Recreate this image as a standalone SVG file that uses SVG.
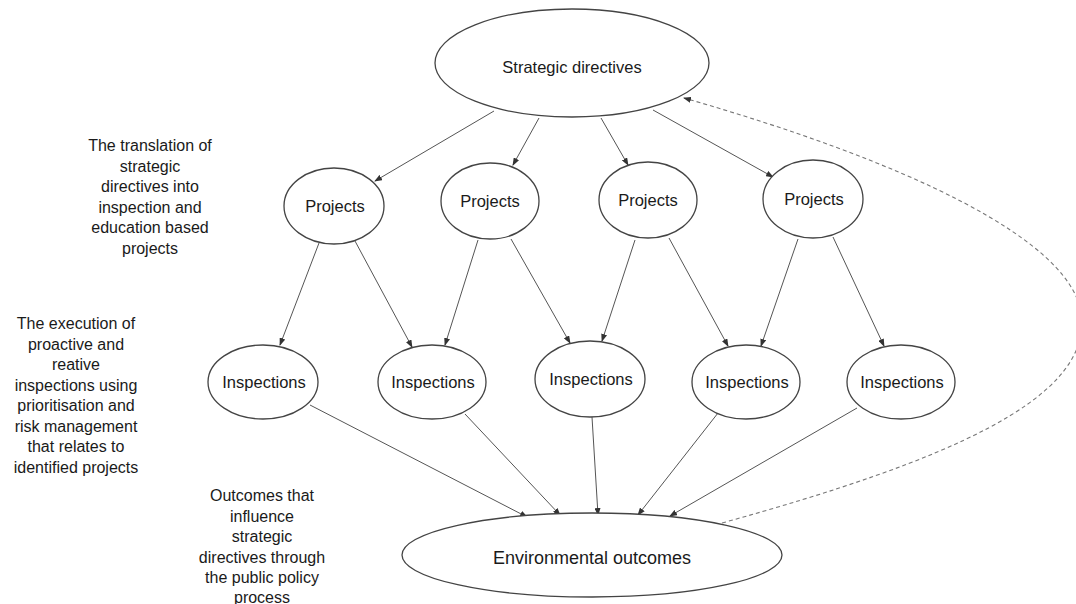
<svg xmlns="http://www.w3.org/2000/svg" width="1076" height="604" viewBox="0 0 1076 604">
  <defs>
    <marker id="arrow" markerWidth="8" markerHeight="6" refX="7" refY="3" orient="auto" markerUnits="userSpaceOnUse">
      <path d="M0,0 L8,3 L0,6 z" fill="#333"/>
    </marker>
    <style>
      .node ellipse { fill: #fff; stroke: #444; stroke-width: 1.3; }
      .node text { font-family: "Liberation Sans", Arial, sans-serif; font-size: 16.5px; fill: #1a1a1a; text-anchor: middle; }
      .edge { stroke: #555; stroke-width: 1; fill: none; marker-end: url(#arrow); }
      .feedback { stroke: #777; stroke-width: 1.1; fill: none; stroke-dasharray: 4 3; marker-end: url(#arrow); }
      .note { font-family: "Liberation Sans", Arial, sans-serif; font-size: 16px; fill: #1a1a1a; text-anchor: middle; }
    </style>
  </defs>
  <rect width="1076" height="604" fill="#fff"/>

  <!-- connectors -->
  <g id="connectors">
    <line class="edge" x1="494" y1="111" x2="375" y2="181"/>
    <line class="edge" x1="539" y1="118" x2="513" y2="165"/>
    <line class="edge" x1="601" y1="118" x2="628" y2="165"/>
    <line class="edge" x1="653" y1="110" x2="773" y2="177"/>

    <line class="edge" x1="319" y1="243" x2="280" y2="345"/>
    <line class="edge" x1="355" y1="241" x2="412" y2="347"/>
    <line class="edge" x1="478" y1="240" x2="445" y2="345"/>
    <line class="edge" x1="511" y1="239" x2="570" y2="343"/>
    <line class="edge" x1="635" y1="240" x2="602" y2="341"/>
    <line class="edge" x1="669" y1="238" x2="728" y2="346"/>
    <line class="edge" x1="798" y1="239" x2="761" y2="346"/>
    <line class="edge" x1="833" y1="237" x2="884" y2="346"/>

    <line class="edge" x1="310" y1="405" x2="527" y2="517"/>
    <line class="edge" x1="465" y1="414" x2="560" y2="515"/>
    <line class="edge" x1="592" y1="417" x2="598" y2="515"/>
    <line class="edge" x1="718" y1="413" x2="638" y2="515"/>
    <line class="edge" x1="857" y1="408" x2="670" y2="516"/>

    <path class="feedback" d="M722,523 C950,460 1085,400 1082,320 C1079,240 900,160 684,98"/>
  </g>

  <!-- top level -->
  <g id="strategic" class="node">
    <ellipse cx="572" cy="63" rx="137" ry="54"/>
    <text x="572" y="73">Strategic directives</text>
  </g>

  <!-- project level -->
  <g id="project1" class="node">
    <ellipse cx="334" cy="206" rx="50" ry="38"/>
    <text x="335" y="212">Projects</text>
  </g>
  <g id="project2" class="node">
    <ellipse cx="490" cy="201" rx="49" ry="38"/>
    <text x="490" y="207">Projects</text>
  </g>
  <g id="project3" class="node">
    <ellipse cx="648" cy="200" rx="49" ry="38"/>
    <text x="648" y="206">Projects</text>
  </g>
  <g id="project4" class="node">
    <ellipse cx="813" cy="199" rx="50" ry="39"/>
    <text x="814" y="205">Projects</text>
  </g>

  <!-- inspection level -->
  <g id="inspection1" class="node">
    <ellipse cx="263" cy="382" rx="55" ry="37"/>
    <text x="264" y="388">Inspections</text>
  </g>
  <g id="inspection2" class="node">
    <ellipse cx="432" cy="382" rx="54" ry="37"/>
    <text x="433" y="388">Inspections</text>
  </g>
  <g id="inspection3" class="node">
    <ellipse cx="590" cy="379" rx="55" ry="38"/>
    <text x="591" y="385">Inspections</text>
  </g>
  <g id="inspection4" class="node">
    <ellipse cx="746" cy="382" rx="54" ry="37"/>
    <text x="747" y="388">Inspections</text>
  </g>
  <g id="inspection5" class="node">
    <ellipse cx="901" cy="382" rx="54" ry="37"/>
    <text x="902" y="388">Inspections</text>
  </g>

  <!-- outcome level -->
  <g id="outcomes" class="node">
    <ellipse cx="592" cy="555" rx="190" ry="42"/>
    <text x="592" y="564" style="font-size:18px">Environmental outcomes</text>
  </g>

  <!-- level descriptions -->
  <g id="note-projects">
    <text class="note" x="150" y="151">The translation of</text>
    <text class="note" x="150" y="171.5">strategic</text>
    <text class="note" x="150" y="192">directives into</text>
    <text class="note" x="150" y="212.5">inspection and</text>
    <text class="note" x="150" y="233">education based</text>
    <text class="note" x="150" y="253.5">projects</text>
  </g>
  <g id="note-inspections">
    <text class="note" x="76" y="329">The execution of</text>
    <text class="note" x="76" y="349.5">proactive and</text>
    <text class="note" x="76" y="370">reative</text>
    <text class="note" x="76" y="390.5">inspections using</text>
    <text class="note" x="76" y="411">prioritisation and</text>
    <text class="note" x="76" y="431.5">risk management</text>
    <text class="note" x="76" y="452">that relates to</text>
    <text class="note" x="76" y="472.5">identified projects</text>
  </g>
  <g id="note-outcomes">
    <text class="note" x="262" y="501">Outcomes that</text>
    <text class="note" x="262" y="521.5">influence</text>
    <text class="note" x="262" y="542">strategic</text>
    <text class="note" x="262" y="562.5">directives through</text>
    <text class="note" x="262" y="583">the public policy</text>
    <text class="note" x="262" y="603">process</text>
  </g>
</svg>
